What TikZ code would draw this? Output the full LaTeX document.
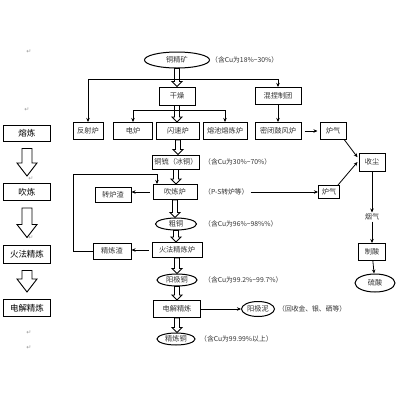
\documentclass[tikz,border=0pt]{standalone}
\usepackage{fontspec}
\setmainfont{Noto Sans CJK SC}
\newfontfamily\dejavu{DejaVu Sans}
\usetikzlibrary{arrows.meta,calc,shapes.geometric}
\newcommand\hollowarr[6]{%
  \draw[harrow] let \p1=(#1.south), \p2=(#2.north) in
   (\x1-#3,\y1-#6) -- (\x1-#3,\y2+#5+#6) -- (\x1-#4,\y2+#5+#6) -- (\x1,\y2+#6)
   -- (\x1+#4,\y2+#5+#6) -- (\x1+#3,\y2+#5+#6) -- (\x1+#3,\y1-#6) -- cycle;}
\tikzset{
  box/.style={draw=black, line width=1pt, inner sep=0pt, font=\fontsize{7.2}{8}\selectfont, text=black!80},
  lbox/.style={draw=black, line width=1pt, inner sep=0pt, minimum width=47pt, font=\fontsize{8.5}{9}\selectfont, text=black},
  oval/.style={ellipse, draw=black, line width=1pt, inner sep=0pt, font=\fontsize{7.2}{8}\selectfont, text=black!80},
  ann/.style={anchor=west, inner sep=0pt, font=\fontsize{6.8}{7}\selectfont, text=black!80},
  arr/.style={-{Stealth[length=4pt,width=3.5pt]}, line width=0.8pt},
  plain/.style={line width=0.8pt},
  harrow/.style={draw=black, line width=0.9pt, fill=white},
  ret/.style={inner sep=0pt, text=black!40, font=\dejavu\fontsize{6}{6}\selectfont}
}
\begin{document}
\begin{tikzpicture}[x=1pt,y=-1pt]
\useasboundingbox[fill=white] (0,0) rectangle (400,400);

% left column
\node[lbox, minimum height=16pt] (smelt) at (27,133) {熔炼};
\node[lbox, minimum height=17pt] (conv2) at (27,192) {吹炼};
\node[lbox, minimum height=18pt] (fire2) at (27,254) {火法精炼};
\node[lbox, minimum height=17pt] (er2) at (27,308) {电解精炼};
\hollowarr{smelt}{conv2}{5pt}{10pt}{13pt}{7pt}
\hollowarr{conv2}{fire2}{5pt}{10pt}{13pt}{7pt}
\hollowarr{fire2}{er2}{5pt}{10pt}{13pt}{7pt}

% paragraph marks
\node[ret] (r1) at (29,52) {↵};
\node[ret] (r2) at (27,110) {↵};
\node[ret] (r3) at (31,179) {↵};
\node[ret] (r4) at (31,238) {↵};
\node[ret] (r5) at (29,333) {↵};
\node[ret] (r6) at (29,348) {↵};

% top
\node[oval, minimum width=65pt, minimum height=16pt] (ore) at (177,60) {铜精矿};
\node[ann] (a1) at (211,60) {（含Cu为18\%\textasciitilde30\%）};
\node[box, minimum width=36pt, minimum height=18pt] (dry) at (177,96) {干燥};
\node[box, minimum width=46pt, minimum height=17pt] (mix) at (278,96) {混捏制团};

\node[box, minimum width=30pt, minimum height=17pt] (rev) at (88,131) {反射炉};
\node[box, minimum width=39pt, minimum height=17pt] (elec) at (133,131) {电炉};
\node[box, minimum width=43pt, minimum height=17pt] (flash) at (178,131) {闪速炉};
\node[box, minimum width=44pt, minimum height=17pt] (bath) at (225,131) {熔池熔炼炉};
\node[box, minimum width=46pt, minimum height=17pt] (blast) at (278,131) {密闭鼓风炉};
\node[box, minimum width=26pt, minimum height=17pt] (gas1) at (333,131) {炉气};

\node[box, minimum width=26pt, minimum height=18pt] (dust) at (372,162) {收尘};
\node[inner sep=1pt, font=\fontsize{7.2}{8}\selectfont, text=black!75] (fume) at (372,217) {烟气};
\node[box, minimum width=27pt, minimum height=17pt] (acidp) at (372,252) {制酸};
\node[oval, minimum width=40pt, minimum height=18pt] (acid) at (375,283) {硫酸};

% middle column
\node[box, minimum width=47pt, minimum height=14pt] (matte) at (176,162) {铜锍（冰铜）};
\node[ann] (a2) at (204,162) {（含Cu为30\%\textasciitilde70\%）};
\node[box, minimum width=44pt, minimum height=15pt] (conv) at (175,192) {吹炼炉};
\node[ann] (a3) at (204,192) {（P-S转炉等）};
\node[box, minimum width=21pt, minimum height=13pt] (gas2) at (329,192) {炉气};
\node[box, minimum width=36pt, minimum height=15pt] (slag1) at (113,195) {转炉渣};
\node[oval, minimum width=41pt, minimum height=12pt] (blister) at (176,224) {粗铜};
\node[ann] (a4) at (204,224) {（含Cu为96\%\textasciitilde98\%\%）};
\node[box, minimum width=50pt, minimum height=15pt] (fire) at (177,250) {火法精炼炉};
\node[box, minimum width=38pt, minimum height=16pt] (slag2) at (112,251) {精炼渣};
\node[oval, minimum width=40pt, minimum height=12pt] (anode) at (177,280) {阳极铜};
\node[ann] (a5) at (204,280) {（含Cu为99.2\%\textasciitilde99.7\%）};
\node[box, minimum width=47pt, minimum height=17pt] (er) at (177,309) {电解精炼};
\node[oval, minimum width=33pt, minimum height=15pt] (slime) at (258,309) {阳极泥};
\node[ann] (a6) at (278,309) {（回收金、银、硒等）};
\node[oval, minimum width=38pt, minimum height=12pt] (cath) at (176,339) {精炼铜};
\node[ann] (a7) at (200,339) {（含Cu为99.99\%以上）};

% hollow arrows middle
\hollowarr{ore}{dry}{2.5pt}{5pt}{5pt}{0pt}
\hollowarr{dry}{flash}{2.5pt}{5pt}{5pt}{0pt}
\hollowarr{flash}{matte}{2.5pt}{5pt}{5pt}{0pt}
\hollowarr{matte}{conv}{2.5pt}{5pt}{5pt}{0pt}
\hollowarr{conv}{blister}{2.5pt}{5pt}{5pt}{0pt}
\hollowarr{blister}{fire}{2.5pt}{5pt}{5pt}{0pt}
\hollowarr{fire}{anode}{2.5pt}{5pt}{5pt}{0pt}
\hollowarr{anode}{er}{2.5pt}{5pt}{5pt}{0pt}
\hollowarr{er}{cath}{2.5pt}{5pt}{5pt}{0pt}

% bus from ore
\draw[arr] (rev.north |- 0,79) coordinate (b1) -- (rev.north);
\draw[plain] (b1) -- (mix.north |- 0,79) coordinate (b2);
\draw[arr] (b2) -- (mix.north);
% bus from dry
\draw[arr] (elec.north |- 0,110) coordinate (b3) -- (elec.north);
\draw[plain] (b3) -- (bath.north |- 0,110) coordinate (b4);
\draw[arr] (b4) -- (bath.north);

\draw[arr] (mix) -- (blast);
\draw[arr, line width=1pt] ([xshift=3pt]blast.east) -- ([xshift=-2pt]gas1.west);
\draw[arr] ([xshift=-2pt]gas1.south east) -- ($(dust.north west)!0.25!(dust.south west)+(-1,0)$);
\draw[arr] ([xshift=-2pt]gas2.north east) -- ([xshift=-1pt]dust.west);
\draw[arr] ([xshift=2pt]a3.east) -- (gas2.west);
\draw[arr] (dust) -- (fume);
\draw[arr] (fume) -- (acidp);
\draw[arr] (acidp) -- (acid);

\draw[arr] ([xshift=-3pt]conv.west) -- (slag1.east |- conv.west);
\draw[arr] ([xshift=-3pt]fire.west) -- (slag2.east |- fire.west);
\draw[arr] (slag2.west) -- (73,251) -- (73,174) -- (157,174) coordinate (c1) -- (c1 |- conv.north);
\draw[arr] (er.east) -- (slime.west);
\end{tikzpicture}
\end{document}
